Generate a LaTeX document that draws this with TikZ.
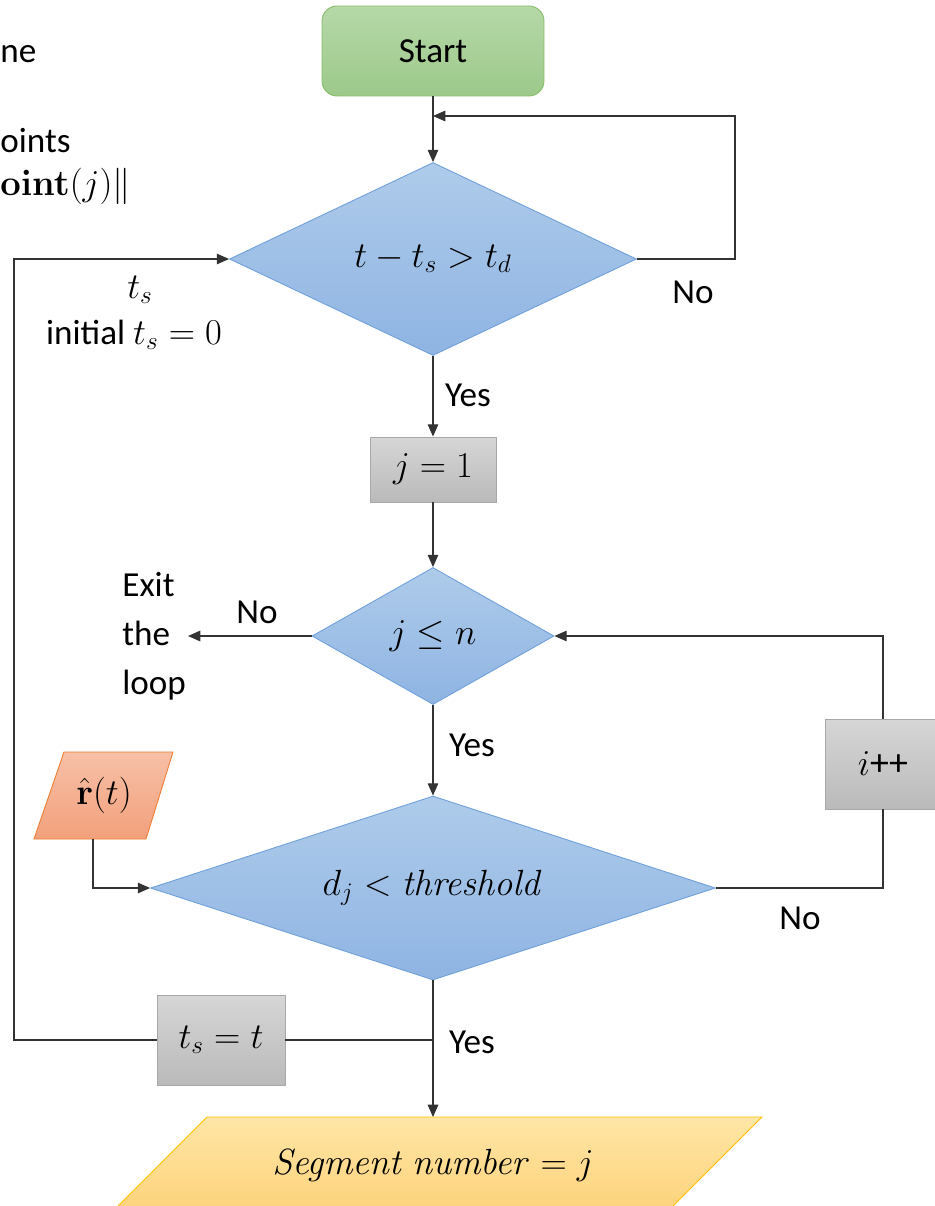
\documentclass[tikz,border=0pt]{standalone}
\usepackage[no-math]{fontspec}
\setmainfont{Carlito}
\usetikzlibrary{shapes.geometric,arrows.meta,calc}
\definecolor{dblueA}{HTML}{AECBEA}
\definecolor{dblueB}{HTML}{8FB4E3}
\definecolor{dblueL}{HTML}{6FA0DA}
\definecolor{grayA}{HTML}{D6D6D6}
\definecolor{grayB}{HTML}{BABABA}
\definecolor{grayL}{HTML}{A8A8A8}
\definecolor{greenA}{HTML}{B6D8A8}
\definecolor{greenB}{HTML}{9CC98A}
\definecolor{greenL}{HTML}{86BE66}
\definecolor{orA}{HTML}{F7C0A6}
\definecolor{orB}{HTML}{F2A07C}
\definecolor{orL}{HTML}{ED7D31}
\definecolor{yeA}{HTML}{FFE6A6}
\definecolor{yeB}{HTML}{FDD27A}
\definecolor{yeL}{HTML}{FFC000}
\definecolor{lineC}{HTML}{333333}
\tikzset{
  x=0.02cm, y=-0.02cm,
  txt/.style={font=\fontsize{20}{28}\selectfont, inner sep=0pt},
  mth/.style={font=\fontsize{21.5}{26}\selectfont, inner sep=0pt},
  dec/.style={diamond, draw=dblueL, line width=0.5pt, top color=dblueA, bottom color=dblueB, mth},
  procbox/.style={rectangle, draw=grayL, line width=0.5pt, top color=grayA, bottom color=grayB, mth},
  conn/.style={draw=lineC, line width=0.7pt},
  arr/.style={conn, -{Triangle[length=7pt,width=6pt]}},
}
\begin{document}
\begin{tikzpicture}
\path[use as bounding box, clip] (0,0) rectangle (935,1206);
\fill[white] (0,0) rectangle (935,1206);

% clipped text at top-left
\node[txt, anchor=base west] (tl1) at (0,63) {ne};
\node[txt, anchor=base west] (tl2) at (0,153) {oints};
\node[txt, anchor=base west] (tl3) at (0,195) {$\mathbf{oint}(j)\|$};

% start
\node[rectangle, rounded corners=0.3cm, draw=greenL, line width=0.5pt, top color=greenA, bottom color=greenB,
      minimum width=4.44cm, minimum height=1.8cm, txt] (start) at (433,51) {Start};

% decisions and process boxes
\node[dec, minimum width=8.14cm, minimum height=3.86cm, aspect=2.1] (d1) at (433,259) {$t-t_s>t_d$};
\node[procbox, minimum width=2.52cm, minimum height=1.3cm] (b1) at (433,469.5) {$j=1$};
\node[dec, minimum width=4.84cm, minimum height=2.74cm, aspect=1.77] (d2) at (433,636) {$j\le n$};
\node[dec, minimum width=11.3cm, minimum height=3.68cm, aspect=3.07] (d3) at (433,888) {$d_j<\mathit{threshold}$};
\node[procbox, minimum width=2.32cm, minimum height=1.8cm] (ipp) at (883,764) {$i$++};
\node[procbox, minimum width=2.56cm, minimum height=1.8cm] (ts) at (221,1040) {$t_s=t$};

% input parallelogram r(t)
\path[draw=orL, line width=0.5pt, top color=orA, bottom color=orB] (64,752) -- (173,752) -- (146,839) -- (34,839) -- cycle;
\node[mth] (r) at (104,795) {$\hat{\mathbf{r}}(t)$};
\coordinate (rbot) at (93,839);

% output parallelogram
\path[draw=yeL, line width=0.5pt, top color=yeA, bottom color=yeB] (207,1117) -- (762,1117) -- (665,1214) -- (110,1214) -- cycle;
\node[mth, font=\fontsize{20}{24}\selectfont] (seg) at (433,1165) {$\mathit{Segment\ number}=j$};
\coordinate (segtop) at (433,1117);

% labels
\node[txt] (no1) at (693,292) {No};
\node[txt] (yes1) at (468,395) {Yes};
\node[txt] (no2) at (257,612) {No};
\node[txt, align=left, anchor=west] (exit) at (122,636) {Exit\\the\\loop};
\node[txt] (yes2) at (472,745) {Yes};
\node[txt] (no3) at (800,918) {No};
\node[txt] (yes3) at (472,1042) {Yes};
\node[mth] (tsl) at (140,290) {$t_s$};
\node[txt] (init) at (134,335) {initial {\fontsize{22.5}{27}\selectfont$t_s=0$}};

% connector coordinates
\coordinate (c1) at (735,259);
\coordinate (c2) at (735,116);
\coordinate (c3) at (433,116);
\coordinate (exitpt) at (188,636);
\coordinate (rr1) at (883,888);
\coordinate (rr2) at (883,636);
\coordinate (jn) at (433,1040);
\coordinate (ll1) at (14,1040);
\coordinate (ll2) at (14,259);

% connectors
\draw[arr] (start.south) -- (d1.north);
\draw[arr] (d1.east) -- (c1) -- (c2) -- (c3);
\draw[arr] (d1.south) -- (b1.north);
\draw[arr] (b1.south) -- (d2.north);
\draw[arr] (d2.west) -- (exitpt);
\draw[arr] (d2.south) -- (d3.north);
\draw[conn] (d3.east) -- (rr1) -- (ipp.south);
\draw[arr] (ipp.north) -- (rr2) -- (d2.east);
\draw[arr] (rbot) |- (d3.west);
\draw[arr] (d3.south) -- (segtop);
\draw[conn] (jn) -- (ts.east);
\draw[arr] (ts.west) -- (ll1) -- (ll2) -- (d1.west);
\end{tikzpicture}
\end{document}
